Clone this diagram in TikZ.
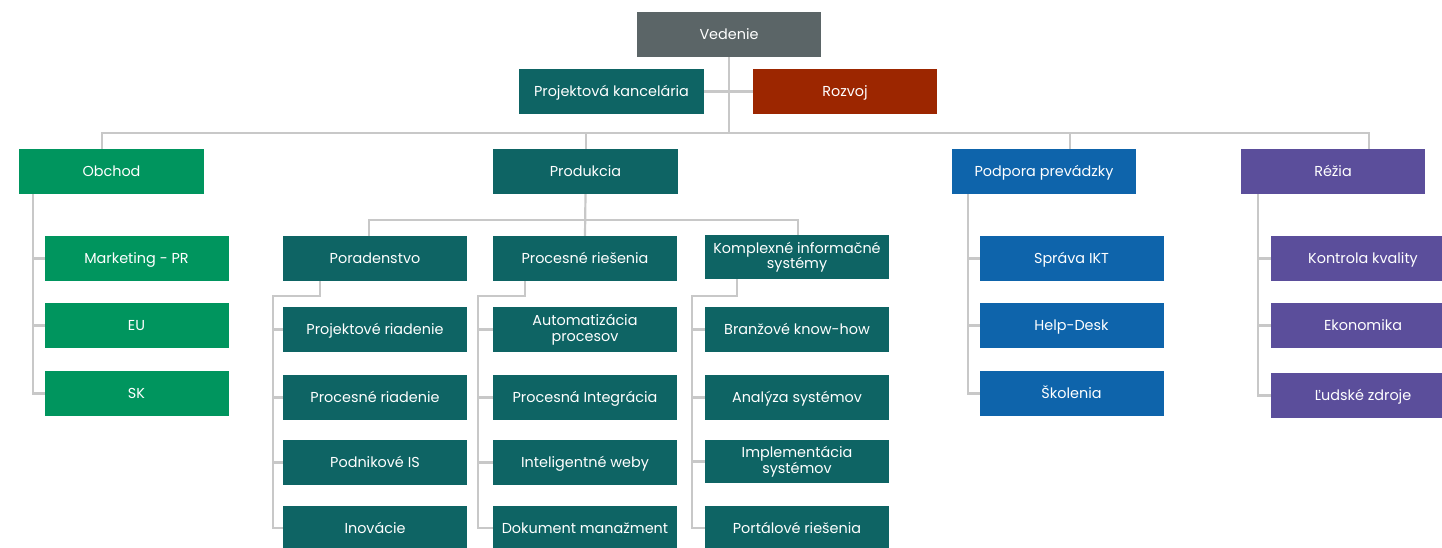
\documentclass[tikz,border=0pt]{standalone}
\usepackage{fontspec}
\setmainfont{Poppins}
\usetikzlibrary{backgrounds}
\definecolor{cgray}{HTML}{5B6567}
\definecolor{cteal}{HTML}{0E6464}
\definecolor{cred}{HTML}{9C2600}
\definecolor{cgreen}{HTML}{00955E}
\definecolor{cblue}{HTML}{0E64AB}
\definecolor{cpurple}{HTML}{5B4E9B}
\definecolor{cline}{HTML}{C8C8C8}
\begin{document}
\begin{tikzpicture}[x=1pt,y=-1pt,
  box/.style={minimum width=184pt,minimum height=45pt,inner sep=0pt,outer sep=0pt,
    text=white,font=\fontsize{14.4}{15.5}\selectfont,align=center,
    text height=10pt,text depth=0pt},
  twoline/.style={text height=,text depth=},
  conn/.style={draw=cline,line width=2.2pt}]
\useasboundingbox (0,0) rectangle (1442,547);
% top
\node[box,fill=cgray] (ved) at (729,34.5) {Vedenie};
\node[box,fill=cteal,minimum width=185pt] (pk) at (611.5,91.5) {Projektová kancelária};
\node[box,fill=cred] (roz) at (845,91.5) {Rozvoj};
% level 1
\node[box,fill=cgreen,minimum width=185pt] (obc) at (111.5,171.5) {Obchod};
\node[box,fill=cteal,minimum width=185pt] (pro) at (585.5,171.5) {Produkcia};
\node[box,fill=cblue] (pod) at (1044,171.5) {Podpora prevádzky};
\node[box,fill=cpurple] (rez) at (1333,171.5) {Réžia};
% Obchod children
\node[box,fill=cgreen] (mkt) at (136.5,258.5) {Marketing - PR};
\node[box,fill=cgreen] (eu) at (136.5,325.5) {EU};
\node[box,fill=cgreen] (sk) at (136.5,393.5) {SK};
% Produkcia children
\node[box,fill=cteal] (por) at (375,258.5) {Poradenstvo};
\node[box,fill=cteal] (prr) at (585,258.5) {Procesné riešenia};
\node[box,twoline,fill=cteal,minimum height=44pt] (kis) at (797,257) {Komplexné informačné\\systémy};
% Poradenstvo children
\node[box,fill=cteal] (pr1) at (375,329.5) {Projektové riadenie};
\node[box,fill=cteal] (pr2) at (375,397.5) {Procesné riadenie};
\node[box,fill=cteal] (pr3) at (375,462.5) {Podnikové IS};
\node[box,fill=cteal] (pr4) at (375,528) {Inovácie};
% Procesne riesenia children
\node[box,twoline,fill=cteal] (ps1) at (585,329.5) {Automatizácia\\procesov};
\node[box,fill=cteal] (ps2) at (585,397.5) {Procesná Integrácia};
\node[box,fill=cteal] (ps3) at (585,462.5) {Inteligentné weby};
\node[box,fill=cteal] (ps4) at (585,528) {Dokument manažment};
% Komplexne children
\node[box,fill=cteal] (ks1) at (797,329.5) {Branžové know-how};
\node[box,fill=cteal] (ks2) at (797,397.5) {Analýza systémov};
\node[box,twoline,fill=cteal,minimum height=43pt] (ks3) at (797,461.5) {Implementácia\\systémov};
\node[box,fill=cteal] (ks4) at (797,528) {Portálové riešenia};
% Podpora children
\node[box,fill=cblue] (ikt) at (1071.5,258.5) {Správa IKT};
\node[box,fill=cblue] (hd) at (1071.5,325.5) {Help-Desk};
\node[box,fill=cblue] (sko) at (1071.5,393.5) {Školenia};
% Rezia children
\node[box,fill=cpurple] (kk) at (1363,258.5) {Kontrola kvality};
\node[box,fill=cpurple] (eko) at (1363,325.5) {Ekonomika};
\node[box,fill=cpurple] (lz) at (1363,395.5) {Ľudské zdroje};

\begin{scope}[on background layer]
% top connectors
\draw[conn] (ved.south) -- ++(0,76);
\draw[conn] (pk.east) -- (roz.west);
\draw[conn] ([xshift=-9.5pt]obc.north) -- ++(0,-16) -| ([xshift=36pt]rez.north);
\draw[conn] ([xshift=0.5pt]pro.north) -- ++(0,-16);
\draw[conn] ([xshift=26pt]pod.north) -- ++(0,-16);
% Produkcia
\draw[conn] (pro.south) -- (prr.north);
\draw[conn] ([xshift=-6pt]por.north) -- ++(0,-16) -| ([xshift=1pt]kis.north);
% Obchod
\foreach \c in {mkt,eu,sk}
  \draw[conn] ([xshift=14pt]obc.south west) |- (\c.west);
% Podpora
\foreach \c in {ikt,hd,sko}
  \draw[conn] ([xshift=16.3pt]pod.south west) |- (\c.west);
% Rezia
\foreach \c in {kk,eko,lz}
  \draw[conn] ([xshift=16.7pt]rez.south west) |- (\c.west);
% Poradenstvo
\foreach \c in {pr1,pr2,pr3,pr4}
  \draw[conn] ([xshift=-55pt]por.south) -- ++(0,15) -| ([xshift=-10pt]\c.west) -- (\c.west);
% Procesne riesenia
\foreach \c in {ps1,ps2,ps3,ps4}
  \draw[conn] ([xshift=-60pt]prr.south) -- ++(0,15) -| ([xshift=-15pt]\c.west) -- (\c.west);
% Komplexne
\foreach \c in {ks1,ks2,ks3,ks4}
  \draw[conn] ([xshift=-59.7pt]kis.south) -- ++(0,17) -| ([xshift=-13.3pt]\c.west) -- (\c.west);
\end{scope}
\end{tikzpicture}
\end{document}
